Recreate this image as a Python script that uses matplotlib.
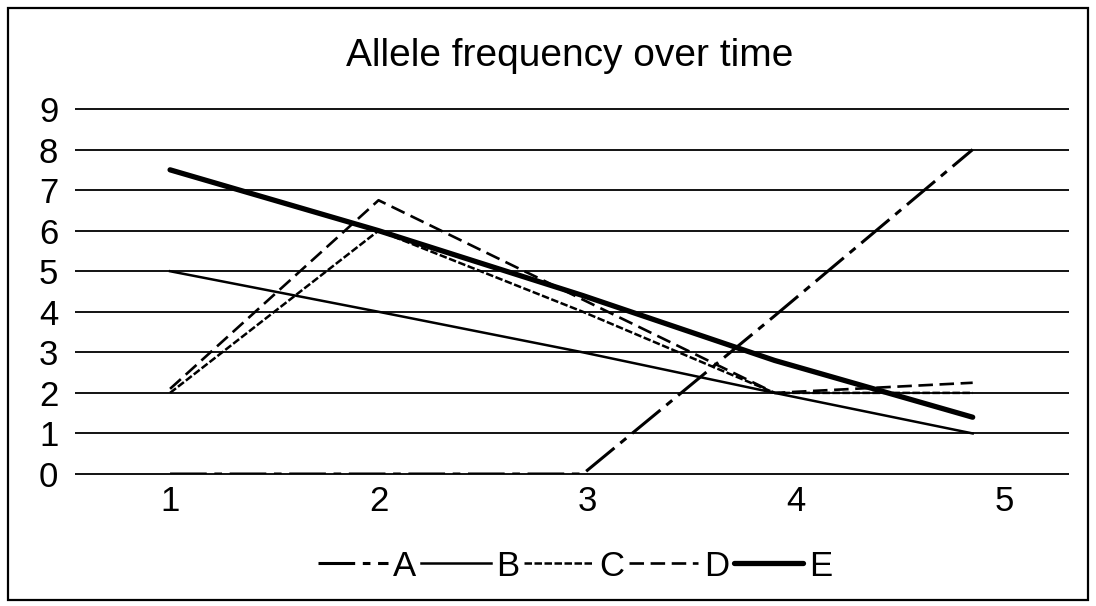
import matplotlib.pyplot as plt
from matplotlib.patches import Rectangle

plt.rcParams['font.family'] = ['Liberation Sans', 'DejaVu Sans']

# data
time = [1, 2, 2.98, 3.9, 4.85]
A = [0, 0, 0, 3.9, 8]
B = [5, 4, 3, 2, 1]
C = [2, 6, 4, 2, 2]
D = [2.1, 6.75, 4.3, 2.0, 2.25]
E = [7.5, 6.0, 4.4, 2.8, 1.4]
x_ticks = [1, 2, 3, 4, 5]
y_ticks = list(range(10))

fig = plt.figure(figsize=(10.96, 6.06), dpi=100)
W, H = 1096, 606
ax = fig.add_axes([75 / W, 1 - 474 / H, (1069 - 75) / W, (474 - 109) / H])

ax.hlines(y_ticks, 0.544, 5.312, colors='black', linewidth=1.3, clip_on=False, zorder=1)

ax.plot(time, A, color='black', lw=2.2, ls=(0, (12, 2.5, 2.5, 2.5)), label='A', zorder=3)
ax.plot(time, B, color='black', lw=1.8, ls='-', label='B', zorder=3)
ax.plot(time, C, color='black', lw=1.8, ls=(0, (3, 1)), label='C', zorder=3)
ax.plot(time, D, color='black', lw=1.9, ls=(0, (5.5, 2.5)), label='D', zorder=3)
ax.plot(time, E, color='black', lw=3.8, ls='-', label='E', zorder=4,
        solid_capstyle='round')

ax.set_xlim(0.544, 5.312)
ax.set_ylim(0, 9)
ax.set_xticks(x_ticks)
ax.set_yticks(y_ticks)
ax.tick_params(length=0, labelsize=25)
ax.tick_params(axis='y', pad=12)
ax.tick_params(axis='x', pad=8)
for s in ax.spines.values():
    s.set_visible(False)

fig.text(570 / W, 1 - 56 / H, 'Allele frequency over time', ha='center', va='center',
         fontsize=28)

fig.legend(loc='center', bbox_to_anchor=(575 / W, 1 - 566 / H), ncol=5, frameon=False,
           fontsize=25, handlelength=2.0, handletextpad=0.15, columnspacing=0.15,
           borderpad=0)

fig.patches.append(Rectangle((8 / W, 1 - 600 / H), 1080 / W, 592 / H,
                             transform=fig.transFigure, fill=False,
                             edgecolor='black', linewidth=1.6))

fig.savefig('out.png', dpi=100)
